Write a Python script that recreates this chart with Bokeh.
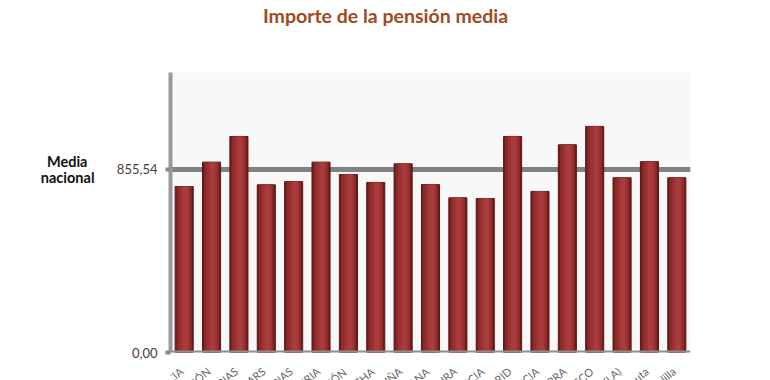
from bokeh.plotting import figure
from bokeh.models import (Range1d, FactorRange, FixedTicker, Span, LinearAxis,
                          ColumnDataSource, CustomJSTickFormatter)
from bokeh.layouts import column
from bokeh.transform import dodge
from bokeh.core.properties import value
from bokeh.embed import file_html
from bokeh.resources import INLINE

regions = ["ANDALUCIA", "ARAGÓN", "ASTURIAS", "ILLES BALEARS", "CANARIAS", "CANTABRIA",
           "CASTILLA Y LEÓN", "CASTILLA-LA MANCHA", "CATALUÑA", "C. VALENCIANA", "EXTREMADURA",
           "GALICIA", "MADRID", "MURCIA", "NAVARRA", "PAÍS VASCO", "RIOJA (LA)", "Ceuta", "Melilla"]
pension = [776, 890, 1010, 784, 799, 890, 832, 795, 882, 785, 723,
           720, 1010, 753, 971, 1057, 817, 892, 817]
media_nacional = 855.54
tick_values = [0, 855.54]
title_text = "Importe de la pensión media"
side_label = "Media\u00a0\u00a0\nnacional"

src = ColumnDataSource(dict(region=regions, pension=pension))

# title strip (x range in page pixels of the frame: 170..690)
p0 = figure(width=754, height=30, x_range=Range1d(170, 690), y_range=Range1d(0, 30),
            output_backend="svg", toolbar_location=None, x_axis_location=None,
            y_axis_location=None, min_border_left=170, min_border_right=64,
            min_border_top=0, min_border_bottom=0)
p0.outline_line_color = None
p0.grid.visible = False
p0.text(x=[385], y=[15], text=[title_text], text_align="center", text_baseline="middle",
        text_font=value("Lato"), text_font_size="19.5px", text_font_style="bold",
        text_color="#a04a1e")

p = figure(x_range=FactorRange(factors=regions), y_range=Range1d(0, 1309),
           width=754, height=330, output_backend="svg", toolbar_location=None,
           min_border_left=170, min_border_right=64, min_border_top=42, min_border_bottom=8)
p.background_fill_color = "#f8f8f8"
p.border_fill_color = "white"
p.outline_line_color = None
p.grid.visible = False
p.xaxis.visible = False

yax = p.yaxis[0]
yax.ticker = FixedTicker(ticks=tick_values)
yax.formatter = CustomJSTickFormatter(code="return tick.toFixed(2).replace('.', ',');")
yax.axis_line_width = 4
yax.axis_line_color = "#9a9a9a"
yax.major_tick_line_color = "#8a8a8a"
yax.major_tick_line_width = 4
yax.major_tick_out = 5
yax.major_tick_in = 0
yax.minor_tick_line_color = None
yax.major_label_standoff = 8
yax.major_label_text_font = "Lato"
yax.major_label_text_font_size = "13px"
yax.major_label_text_color = "#4a4036"

side = LinearAxis(ticker=FixedTicker(ticks=[media_nacional]),
                  major_label_overrides={media_nacional: side_label})
side.axis_line_color = None
side.major_tick_line_color = None
side.minor_tick_line_color = None
side.major_label_standoff = 13
side.major_label_text_font = "Lato"
side.major_label_text_font_size = "14.5px"
side.major_label_text_font_style = "bold"
side.major_label_text_line_height = 0.95
side.major_label_text_color = "#111111"
p.add_layout(side, "left")

p.add_layout(Span(location=media_nacional, dimension="width", line_color="#828282",
                  line_width=5, level="underlay"))

# cylinder-like shading
p.vbar(x="region", top="pension", width=0.66, source=src, fill_color="#6a1c1c",
       line_color="#5a1616", line_width=1)
p.vbar(x=dodge("region", 0.0, range=p.x_range), top="pension", width=0.54, source=src,
       fill_color="#8c2a2a", line_color=None)
p.vbar(x=dodge("region", 0.02, range=p.x_range), top="pension", width=0.38, source=src,
       fill_color="#9c3232", line_color=None)
p.vbar(x=dodge("region", 0.04, range=p.x_range), top="pension", width=0.2, source=src,
       fill_color="#a83b3b", line_color=None)

p.add_layout(Span(location=0, dimension="width", line_color="#8f8f8f", line_width=4))

# category labels strip under the chart
p2 = figure(x_range=p.x_range, y_range=Range1d(0, 20), width=754, height=20,
            output_backend="svg", toolbar_location=None, x_axis_location=None,
            y_axis_location=None, min_border_left=170, min_border_right=64,
            min_border_top=0, min_border_bottom=0)
p2.outline_line_color = None
p2.grid.visible = False
p2.background_fill_color = "white"
p2.text(x=dodge("region", -0.1, range=p.x_range), y=11, text="region", source=src,
        angle=0.7, text_align="right", text_baseline="middle", text_font=value("Lato"),
        text_font_size="11px", text_color="#666666")

layout = column(p0, p, p2, spacing=0)
open("out.html", "w").write(file_html(layout, INLINE))
